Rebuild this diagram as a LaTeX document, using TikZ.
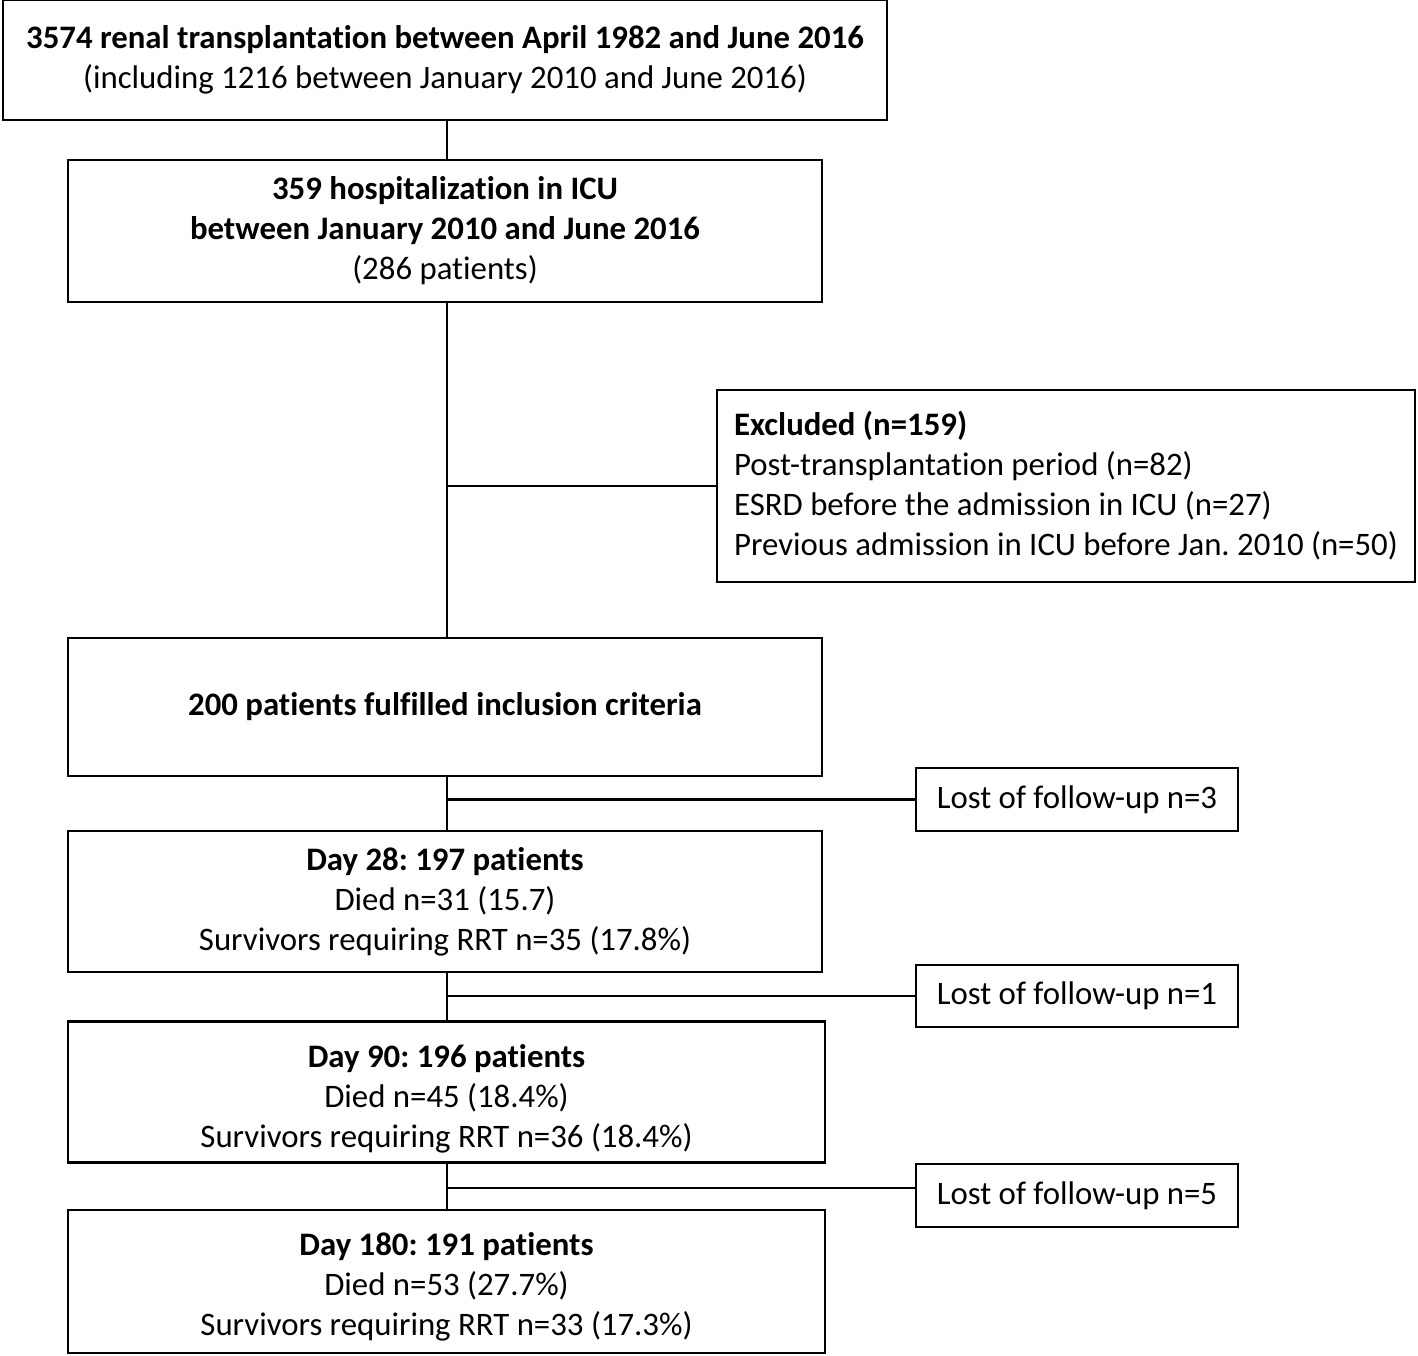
\documentclass[tikz,border=0pt]{standalone}
\usepackage{fontspec}
\setmainfont{Carlito}[Ligatures=NoCommon]
\frenchspacing
\begin{document}
\begin{tikzpicture}[x=0.5pt,y=-0.5pt,
  box/.style={draw=black,line width=1.2pt,align=center,inner sep=0pt,
    font=\fontsize{16.4}{20}\selectfont},
  link/.style={draw=black,line width=1.2pt}]
\fill[white] (0,0) rectangle (1418,1355);
\useasboundingbox (0,0) rectangle (1418,1355);
\node[box,minimum width=884*0.5pt,minimum height=120*0.5pt] (top) at (445,60)
  {\textbf{3574 renal transplantation between April 1982 and June 2016}\\(including 1216 between January 2010 and June 2016)};
\node[box,minimum width=754*0.5pt,minimum height=142*0.5pt] (icu) at (445,231)
  {\textbf{359 hospitalization in ICU}\\\textbf{between January 2010 and June 2016}\\(286 patients)};
\node[box,align=left,minimum width=698*0.5pt,minimum height=192*0.5pt] (excl) at (1066,486)
  {\textbf{Excluded (n=159)}\\Post-transplantation period (n=82)\\ESRD before the admission in ICU (n=27)\\Previous admission in ICU before Jan. 2010 (n=50)};
\node[box,minimum width=754*0.5pt,minimum height=138*0.5pt] (incl) at (445,707)
  {\textbf{200 patients fulfilled inclusion criteria}};
\node[box,minimum width=322*0.5pt,minimum height=63*0.5pt] (lost1) at (1077,799.5)
  {Lost of follow-up n=3};
\node[box,minimum width=754*0.5pt,minimum height=141*0.5pt] (d28) at (445,901.5)
  {\textbf{Day 28: 197 patients}\\Died n=31 (15.7)\\Survivors requiring RRT n=35 (17.8\%)};
\node[box,minimum width=322*0.5pt,minimum height=62*0.5pt] (lost2) at (1077,996)
  {Lost of follow-up n=1};
\node[box,minimum width=757*0.5pt,minimum height=141*0.5pt] (d90) at (446.5,1092)
  {\rule{0pt}{18pt}\textbf{Day 90: 196 patients}\\Died n=45 (18.4\%)\\Survivors requiring RRT n=36 (18.4\%)};
\node[box,minimum width=322*0.5pt,minimum height=63*0.5pt] (lost3) at (1077,1195.5)
  {Lost of follow-up n=5};
\node[box,minimum width=757*0.5pt,minimum height=143*0.5pt] (d180) at (446.5,1281.5)
  {\rule{0pt}{17pt}\textbf{Day 180: 191 patients}\\Died n=53 (27.7\%)\\Survivors requiring RRT n=33 (17.3\%)};
\coordinate (c1) at (447,0);
\coordinate (r3) at (0,1188);
\draw[link] (c1 |- top.south) -- (c1 |- icu.north);
\draw[link] (c1 |- icu.south) -- (c1 |- incl.north);
\draw[link] (c1 |- excl.west) -- (excl.west);
\draw[link] (c1 |- incl.south) -- (c1 |- d28.north);
\draw[link] (c1 |- lost1.west) -- (lost1.west);
\draw[link] (c1 |- d28.south) -- (c1 |- d90.north);
\draw[link] (c1 |- lost2.west) -- (lost2.west);
\draw[link] (c1 |- d90.south) -- (c1 |- d180.north);
\draw[link] (c1 |- r3) -- (lost3.west |- r3);
\end{tikzpicture}
\end{document}
